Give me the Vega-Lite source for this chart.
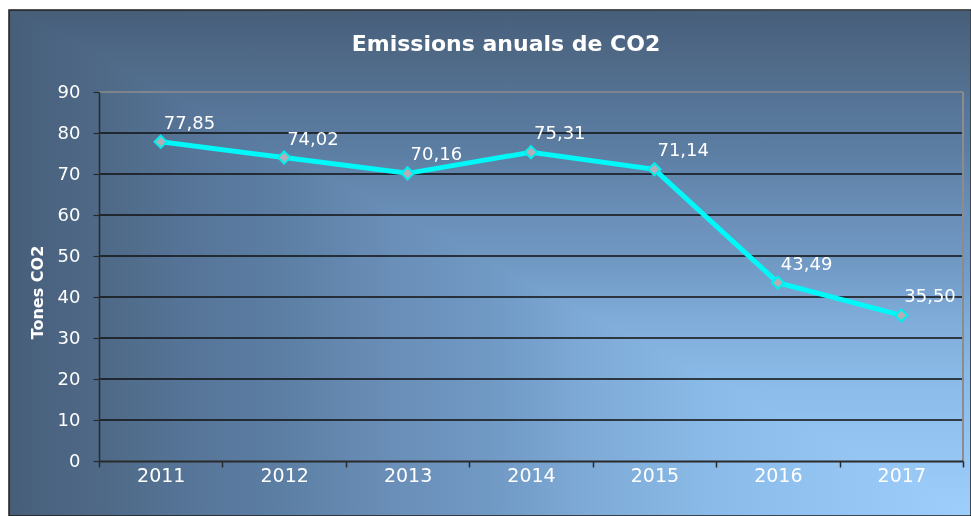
{
  "$schema": "https://vega.github.io/schema/vega-lite/v6.json",
  "width": 962,
  "height": 506,
  "autosize": {"type": "none"},
  "padding": {"left": 9, "top": 10, "right": 0, "bottom": 0},
  "background": "#ffffff",
  "view": {
    "fill": {
      "gradient": "linear",
      "x1": 0, "y1": 0, "x2": 1, "y2": 0,
      "stops": [
        {"offset": 0, "color": "#475e78"},
        {"offset": 0.04, "color": "#4a6380"},
        {"offset": 0.1, "color": "#4f6a87"},
        {"offset": 0.2, "color": "#57769a"},
        {"offset": 0.28, "color": "#5c7ea3"},
        {"offset": 0.4, "color": "#6a8fb8"},
        {"offset": 0.5, "color": "#7099c4"},
        {"offset": 0.6, "color": "#7eaad7"},
        {"offset": 0.75, "color": "#8cbdea"},
        {"offset": 1, "color": "#9ecefb"}
      ]
    },
    "stroke": "#1e1e1e",
    "strokeWidth": 1.5
  },
  "title": {
    "text": "Emissions anuals de CO2",
    "font": "DejaVu Sans",
    "fontSize": 22,
    "fontWeight": "bold",
    "color": "#ffffff",
    "anchor": "middle",
    "frame": "group",
    "offset": -46,
    "dx": 16
  },
  "datasets": {
    "emissions": [
      {"year": "2011", "co2": 77.85},
      {"year": "2012", "co2": 74.02},
      {"year": "2013", "co2": 70.16},
      {"year": "2014", "co2": 75.31},
      {"year": "2015", "co2": 71.14},
      {"year": "2016", "co2": 43.49},
      {"year": "2017", "co2": 35.50}
    ],
    "gridlines": [
      {"v": 10}, {"v": 20}, {"v": 30}, {"v": 40},
      {"v": 50}, {"v": 60}, {"v": 70}, {"v": 80}
    ],
    "toplines": [
      {"v": 90}
    ]
  },
  "data": {"name": "emissions"},
  "layer": [
    {
      "data": {"values": [{}]},
      "mark": {
        "type": "rect",
        "blend": "darken",
        "strokeWidth": 0,
        "fill": {
          "gradient": "linear",
          "x1": 0, "y1": 0, "x2": 0, "y2": 1,
          "stops": [
            {"offset": 0, "color": "#475e78"},
            {"offset": 0.04, "color": "#4a6380"},
            {"offset": 0.1, "color": "#4f6a87"},
            {"offset": 0.2, "color": "#57769a"},
            {"offset": 0.28, "color": "#5c7ea3"},
            {"offset": 0.4, "color": "#6a8fb8"},
            {"offset": 0.5, "color": "#7099c4"},
            {"offset": 0.6, "color": "#7eaad7"},
            {"offset": 0.75, "color": "#8cbdea"},
            {"offset": 1, "color": "#9ecefb"}
          ]
        }
      },
      "encoding": {}
    },
    {
      "data": {"name": "gridlines"},
      "mark": {"type": "rule", "color": "#111111", "strokeWidth": 1.3},
      "encoding": {
        "x": {"datum": "2011", "type": "ordinal", "bandPosition": 0},
        "x2": {"datum": "2017", "bandPosition": 1},
        "y": {"field": "v", "type": "quantitative"}
      }
    },
    {
      "data": {"name": "toplines"},
      "mark": {"type": "rule", "color": "#8c8c8c", "strokeWidth": 1.5},
      "encoding": {
        "x": {"datum": "2011", "type": "ordinal", "bandPosition": 0},
        "x2": {"datum": "2017", "bandPosition": 1},
        "y": {"field": "v", "type": "quantitative"}
      }
    },
    {
      "data": {"values": [{}]},
      "mark": {"type": "rule", "color": "#8c8c8c", "strokeWidth": 2},
      "encoding": {
        "x": {"datum": "2017", "type": "ordinal", "bandPosition": 1},
        "y": {"datum": 0, "type": "quantitative"},
        "y2": {"datum": 90}
      }
    },
    {
      "mark": {"type": "line", "color": "#00f8f8", "strokeWidth": 5},
      "encoding": {
        "x": {
          "field": "year",
          "type": "ordinal",
          "scale": {"type": "band", "range": [90, 954], "paddingInner": 0, "paddingOuter": 0},
          "axis": {
            "title": null,
            "offset": -55,
            "zindex": 1,
            "bandPosition": 0.5,
            "labelAngle": 0,
            "labelAlign": "center",
            "tickBand": "extent",
            "domainColor": "#2a2a2a",
            "domainWidth": 2,
            "tickColor": "#2a2a2a",
            "tickWidth": 1.5,
            "tickSize": 6,
            "labelColor": "#ffffff",
            "labelFont": "DejaVu Sans",
            "labelFontSize": 19,
            "labelPadding": 8,
            "grid": false
          }
        },
        "y": {
          "field": "co2",
          "type": "quantitative",
          "scale": {"domain": [0, 90], "range": [451, 82], "nice": false},
          "axis": {
            "values": [0, 10, 20, 30, 40, 50, 60, 70, 80, 90],
            "title": "Tones CO2",
            "offset": -90,
            "zindex": 1,
            "domainColor": "#2a2a2a",
            "domainWidth": 1.5,
            "tickColor": "#2a2a2a",
            "tickWidth": 1.2,
            "tickSize": 6,
            "labelColor": "#ffffff",
            "labelFont": "DejaVu Sans",
            "labelFontSize": 18,
            "labelPadding": 13,
            "grid": false,
            "titleColor": "#ffffff",
            "titleFont": "DejaVu Sans",
            "titleFontSize": 16,
            "titleFontWeight": "bold",
            "titleAngle": -90,
            "titleAlign": "center",
            "titleBaseline": "middle",
            "titleX": -62,
            "titleY": 282
          }
        }
      }
    },
    {
      "mark": {"type": "point", "shape": "diamond", "filled": true, "fill": "#b3aeb8", "stroke": "#00eeee", "strokeWidth": 2, "size": 150, "opacity": 1},
      "encoding": {
        "x": {"field": "year", "type": "ordinal"},
        "y": {"field": "co2", "type": "quantitative"}
      }
    },
    {
      "mark": {"type": "text", "align": "left", "baseline": "middle", "dx": 3, "dy": -18, "font": "DejaVu Sans", "fontSize": 18, "color": "#ffffff"},
      "encoding": {
        "x": {"field": "year", "type": "ordinal"},
        "y": {"field": "co2", "type": "quantitative"},
        "text": {"field": "co2", "type": "quantitative", "format": ".2f"}
      }
    }
  ],
  "config": {
    "locale": {
      "number": {"decimal": ",", "thousands": ".", "grouping": [3], "currency": ["", " €"]}
    }
  }
}
